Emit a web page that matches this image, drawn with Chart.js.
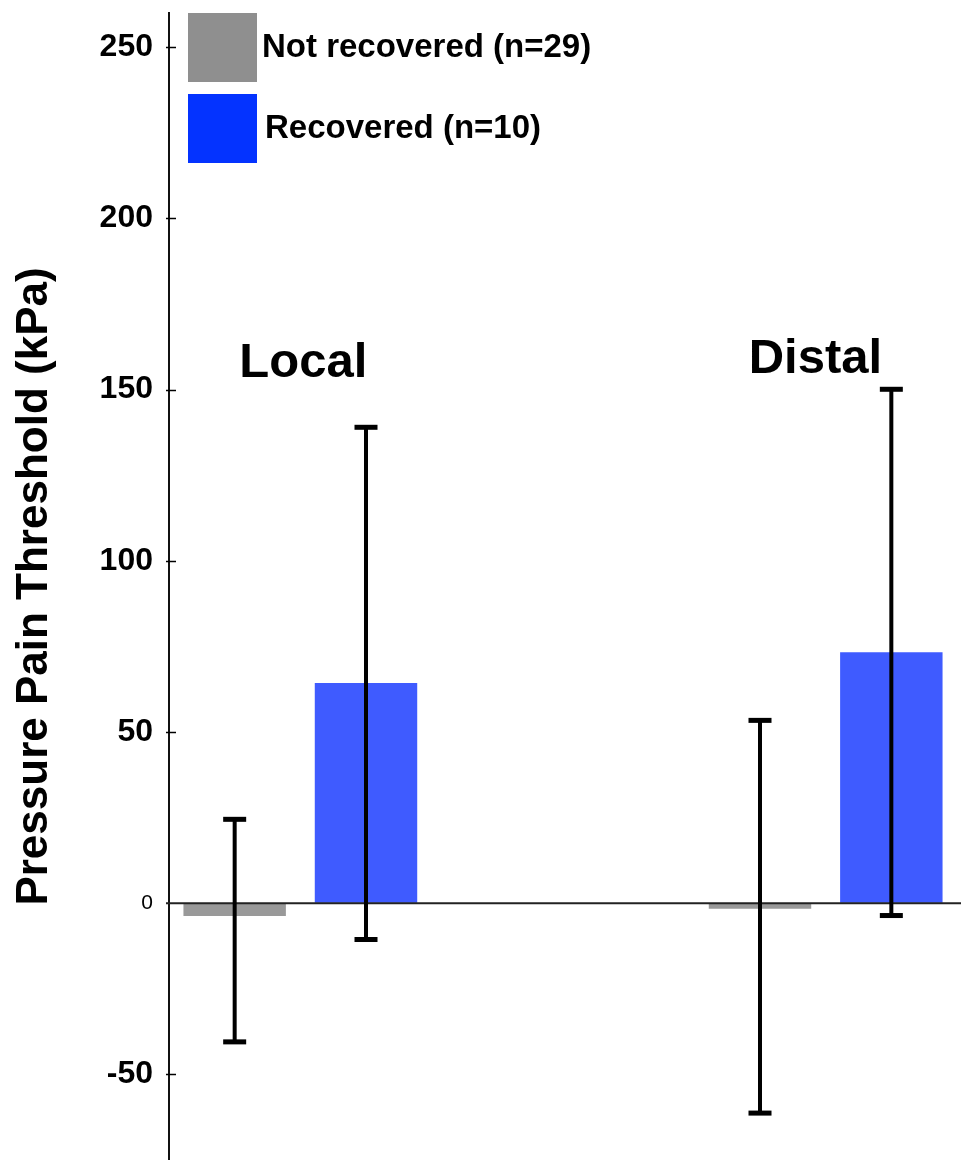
<!DOCTYPE html>
<html>
<head>
<meta charset="utf-8">
<script src="https://cdn.jsdelivr.net/npm/chart.js@4.4.1/dist/chart.umd.min.js"></script>
<style>
  html, body { margin: 0; padding: 0; background: #ffffff; }
  #wrap { width: 961px; height: 1160px; position: relative; }
</style>
</head>
<body>
<div id="wrap"><canvas id="c" width="961" height="1160"></canvas></div>
<script>
// ---- data ----
const categories = ['Local', 'Distal'];
const seriesNames = ['Not recovered (n=29)', 'Recovered (n=10)'];
const notRecovered = [-3.7, -1.6];
const recovered = [64.3, 73.3];
const notRecoveredErrLow = [-40.5, -61.3];
const notRecoveredErrHigh = [24.5, 53.4];
const recoveredErrLow = [-10.6, -3.6];
const recoveredErrHigh = [139.0, 150.1];
const tickValues = [-50, 0, 50, 100, 150, 200, 250];
const tickLabels = ['-50', '0', '50', '100', '150', '200', '250'];
const yTitle = 'Pressure Pain Threshold (kPa)';

const barColors = ['#999999', '#3f5bff'];
const legendColors = ['#8f8f8f', '#0433ff'];
const FONT = '"Liberation Sans", Arial, Helvetica, sans-serif';

// category axis with an empty spacer between the two groups
const labels = [categories[0], '', categories[1]];
const spread = (arr) => [arr[0], null, arr[1]];
const errLow = [notRecoveredErrLow, recoveredErrLow];
const errHigh = [notRecoveredErrHigh, recoveredErrHigh];

const overlay = {
  id: 'overlay',
  afterDatasetsDraw(chart) {
    const ctx = chart.ctx;
    const y = chart.scales.y;
    const x = chart.scales.x;
    ctx.save();
    // zero line
    const y0 = y.getPixelForValue(0);
    ctx.strokeStyle = '#222222';
    ctx.lineWidth = 2;
    ctx.beginPath();
    ctx.moveTo(166, y0);
    ctx.lineTo(chart.width, y0);
    ctx.stroke();
    // inner tick marks
    ctx.strokeStyle = '#000000';
    ctx.lineWidth = 1.5;
    y.ticks.forEach(t => {
      if (t.value === 0) return;
      const py = Math.round(y.getPixelForValue(t.value)) + 0.5;
      ctx.beginPath();
      ctx.moveTo(y.right - 3, py);
      ctx.lineTo(y.right + 7, py);
      ctx.stroke();
    });
    // error bars
    ctx.fillStyle = '#000000';
    chart.data.datasets.forEach((ds, di) => {
      const meta = chart.getDatasetMeta(di);
      [0, 2].forEach((ci, k) => {
        const bar = meta.data[ci];
        if (!bar) return;
        const bx = bar.x;
        const yl = y.getPixelForValue(errLow[di][k]);
        const yh = y.getPixelForValue(errHigh[di][k]);
        ctx.fillRect(bx - 2, yh, 4, yl - yh);
        ctx.fillRect(bx - 11.5, yh - 2.5, 23, 5);
        ctx.fillRect(bx - 11.5, yl - 2.5, 23, 5);
      });
    });
    // group labels
    ctx.fillStyle = '#000000';
    ctx.font = 'bold 49px ' + FONT;
    ctx.textAlign = 'left';
    ctx.textBaseline = 'alphabetic';
    ctx.fillText(categories[0], x.getPixelForValue(0) - 61, 377);
    ctx.fillText(categories[1], x.getPixelForValue(2) - 77, 373);
    // legend
    const boxTop = [13, 94];
    seriesNames.forEach((name, i) => {
      ctx.fillStyle = legendColors[i];
      ctx.fillRect(188, boxTop[i], 69, 69);
      ctx.fillStyle = '#000000';
      ctx.font = 'bold 33px ' + FONT;
      ctx.textBaseline = 'middle';
      ctx.fillText(name, 262 + i * 3, boxTop[i] + 35);
    });
    ctx.restore();
  }
};

new Chart(document.getElementById('c'), {
  type: 'bar',
  data: {
    labels: labels,
    datasets: [
      { label: seriesNames[0], data: spread(notRecovered), backgroundColor: barColors[0], borderWidth: 0 },
      { label: seriesNames[1], data: spread(recovered), backgroundColor: barColors[1], borderWidth: 0 }
    ]
  },
  options: {
    responsive: false,
    devicePixelRatio: 1,
    animation: false,
    layout: { padding: { top: 13, right: 4, left: 0, bottom: 0 } },
    plugins: { legend: { display: false }, tooltip: { enabled: false } },
    datasets: { bar: { categoryPercentage: 1.0, barPercentage: 0.78 } },
    scales: {
      x: { type: 'category', display: false },
      y: {
        type: 'linear',
        min: -75,
        max: 260,
        afterBuildTicks: (scale) => { scale.ticks = tickValues.map(v => ({ value: v })); },
        afterFit: (scale) => {
          scale.width = 169;
          scale.paddingTop = 0;
          scale.paddingBottom = 0;
        },
        border: { display: true, color: '#111111', width: 2 },
        grid: { drawOnChartArea: false, drawTicks: false },
        ticks: {
          padding: 16,
          color: '#000000',
          callback: (v) => tickLabels[tickValues.indexOf(v)],
          font: (c) => (c.tick && c.tick.value === 0)
            ? { family: FONT, size: 21, weight: 'normal' }
            : { family: FONT, size: 32, weight: 'bold' }
        },
        title: {
          display: true,
          text: yTitle,
          color: '#000000',
          font: { family: FONT, size: 44, weight: 'bold' },
          padding: { top: 8, bottom: 0 }
        }
      }
    }
  },
  plugins: [overlay]
});
</script>
</body>
</html>
